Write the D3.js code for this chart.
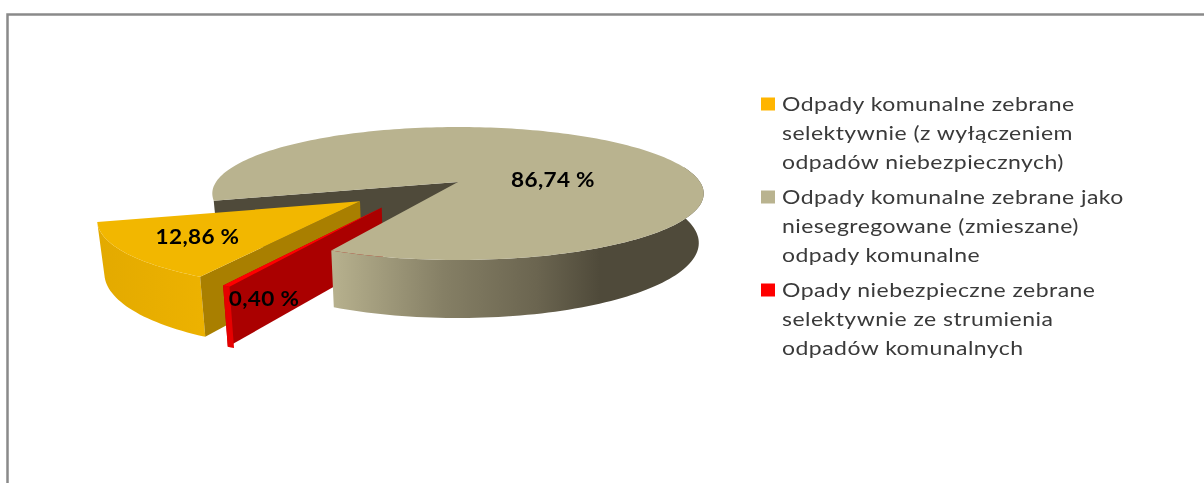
<!DOCTYPE html>
<html><head><meta charset="utf-8">
<script src="https://cdn.jsdelivr.net/npm/d3@7"></script>
<style>html,body{margin:0;padding:0;background:#fff;overflow:hidden}svg{display:block}</style>
</head><body><svg id="c" width="1204" height="483"></svg>
<script>
const categories = ["Odpady komunalne zebrane selektywnie (z wyłączeniem odpadów niebezpiecznych)",
  "Odpady komunalne zebrane jako niesegregowane (zmieszane) odpady komunalne",
  "Opady niebezpieczne zebrane selektywnie ze strumienia odpadów komunalnych"];
const values = [12.86, 86.74, 0.40];
const valueLabels = ["12,86 %", "86,74 %", "0,40 %"];
const legendLines = [
  ["Odpady komunalne zebrane","selektywnie (z wyłączeniem","odpadów niebezpiecznych)"],
  ["Odpady komunalne zebrane jako","niesegregowane (zmieszane)","odpady komunalne"],
  ["Opady niebezpieczne zebrane","selektywnie ze strumienia","odpadów komunalnych"]];

const svg = d3.select("#c");
const rad = d => d*Math.PI/180;

// perspective of the tilted disc
const C = {x:458, y:182, b:242, a:64.5, k:0.173, depth:48, shrink:0.98};
function proj(u, v, lower){
  const w = 1 - C.k*v;
  let x = C.x + C.b*u/w, y = C.y + C.a*v/w;
  if (lower){ x = C.x + (x-C.x)*C.shrink; y += C.depth/w; }
  return [x,y];
}
const line = d3.line();
const pie = d3.pie().sort(null).startAngle(rad(207.7)).endAngle(rad(207.7+360));
const arcs = pie(values);
const explode = [[-0.385,0.285],[0,0],[-0.295,0.37]];

function rim(a0,a1,e,lower){
  const n = Math.max(2, Math.ceil(Math.abs(a1-a0)/rad(1.5)));
  return d3.range(n+1).map(i=>{
    const t = a0+(a1-a0)*i/n;
    return proj(Math.sin(t)+e[0], -Math.cos(t)+e[1], lower);
  });
}
function topFace(d,e){ return line([proj(e[0],e[1],false), ...rim(d.startAngle,d.endAngle,e,false)])+"Z"; }
function radialWall(a,e){
  return line([proj(e[0],e[1],false), proj(Math.sin(a)+e[0],-Math.cos(a)+e[1],false),
               proj(Math.sin(a)+e[0],-Math.cos(a)+e[1],true), proj(e[0],e[1],true)])+"Z";
}
function outerWall(a0,a1,e){ return line([...rim(a0,a1,e,false), ...rim(a0,a1,e,true).reverse()])+"Z"; }

const defs = svg.append("defs");
function grad(id,x1,x2,stops){
  const g = defs.append("linearGradient").attr("id",id).attr("gradientUnits","userSpaceOnUse")
    .attr("x1",x1).attr("x2",x2).attr("y1",0).attr("y2",0);
  stops.forEach(s=>g.append("stop").attr("offset",s[0]).attr("stop-color",s[1]));
}
grad("gWall",332,704,[[0,"#B7B18E"],[0.30,"#857F65"],[0.55,"#6B6550"],[0.72,"#4F4A3A"],[1,"#4F4A3A"]]);
grad("yWall",100,206,[[0,"#E3AA00"],[1,"#EDB200"]]);

// frame
svg.append("path").attr("d","M7.5,483V14.5H1204").attr("fill","none").attr("stroke","#8a8a8a").attr("stroke-width",2.5);

const [yel,gry,red] = arcs;
const none=[0,0], ey=explode[0], er=explode[2];
const pieG = svg.append("g").style("filter","blur(0.4px)");
// main slice's inner wall (behind everything)
pieG.append("path").attr("d",radialWall(gry.startAngle,none)).attr("fill","#4F4A3A");
// yellow exploded slice
pieG.append("path").attr("d",outerWall(yel.startAngle,yel.endAngle,ey)).attr("fill","url(#yWall)");
pieG.append("path").attr("d",radialWall(yel.startAngle,ey)).attr("fill","#A97F00");
pieG.append("path").attr("d",topFace(yel,ey)).attr("fill","#F2B700");
// red exploded slice
pieG.append("path").attr("d",radialWall(red.endAngle,er)).attr("fill","#AA0000");
pieG.append("path").attr("d",outerWall(red.startAngle,red.endAngle,er)).attr("fill","#E60000");
pieG.append("path").attr("d",topFace(red,er)).attr("fill","#FF0000");
// main slice: the visible front part of its rim, then the top face
pieG.append("path").attr("d",outerWall(gry.endAngle-rad(130),gry.endAngle,none)).attr("fill","url(#gWall)");
pieG.append("path").attr("d",topFace(gry,none)).attr("fill","#B9B38F");

// value labels
const labelPos = [[197.5,236],[553,179],[264,298]];
svg.selectAll("text.v").data(valueLabels).join("text").attr("class","v")
  .attr("transform",(d,i)=>`translate(${labelPos[i][0]},${labelPos[i][1]}) scale(1.1,1)`)
  .attr("text-anchor","middle").attr("dominant-baseline","central")
  .attr("font-family","Lato, 'Open Sans', sans-serif").attr("font-weight",700).attr("font-size",20.5)
  .attr("letter-spacing",0.3).attr("fill","#000").style("filter","blur(0.4px)").text(d=>d);

// legend
const legendColors = ["#FFB500","#B9B38F","#FF0000"];
const lg = svg.selectAll("g.l").data(categories).join("g").attr("class","l")
  .attr("transform",(d,i)=>`translate(0,${[97,190,283][i]})`);
lg.append("rect").attr("x",761).attr("y",0.5).attr("width",14).attr("height",13).attr("fill",(d,i)=>legendColors[i]);
lg.selectAll("text").data((d,i)=>legendLines[i]).join("text")
  .attr("transform",(d,i)=>`translate(782,${14+i*29}) scale(1.15,1)`)
  .attr("font-family","Lato, 'Open Sans', sans-serif").attr("font-size",20).attr("fill","#3a3a3a")
  .attr("letter-spacing",0.4).style("filter","blur(0.4px)").text(d=>d);
</script></body></html>
